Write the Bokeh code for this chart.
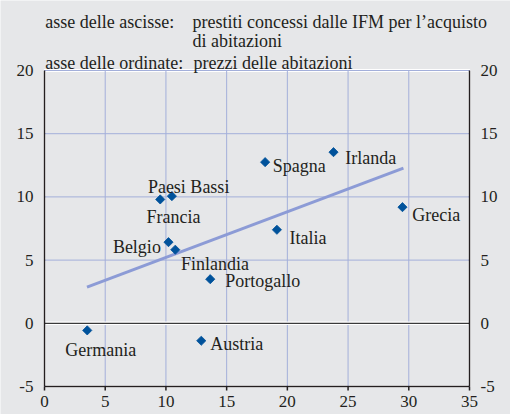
from bokeh.plotting import figure
from bokeh.models import ColumnDataSource, Range1d
from bokeh.embed import file_html
from bokeh.resources import INLINE
from bokeh.core.properties import value

# ---- data ----
countries = ["Germania", "Austria", "Portogallo", "Finlandia", "Belgio", "Francia",
             "Paesi Bassi", "Spagna", "Irlanda", "Italia", "Grecia"]
loans = [3.52, 12.91, 13.65, 10.77, 10.21, 9.53, 10.49, 18.17, 23.80, 19.14, 29.48]
prices = [-0.56, -1.38, 3.49, 5.82, 6.42, 9.80, 10.06, 12.75, 13.54, 7.40, 9.19]

trend_x = [3.50, 29.56]
trend_y = [2.86, 12.27]

x_ticks = [0, 5, 10, 15, 20, 25, 30, 35]
x_tick_labels = ["0", "5", "10", "15", "20", "25", "30", "35"]
y_ticks = [-5, 0, 5, 10, 15, 20]
y_tick_labels = ["-5", "0", "5", "10", "15", "20"]

header_text = ["asse delle ascisse:", "prestiti concessi dalle IFM per l\u2019acquisto",
               "di abitazioni", "asse delle ordinate:", "prezzi delle abitazioni"]

# ---- placement (pixels) ----
label_dx = [-22, 9, 15, 5.7, -55.6, -13.7, -24, 7.7, 11.7, 12.6, 9.7]
label_dy = [20, 3.7, 2, 14, 4.7, 17.4, -9, 4, 6, 8, 8.3]
header_dx = [0.8, 148.1, 148.1, 0.8, 149.0]
header_dy = [-48.3, -48.3, -30.0, -7.7, -7.7]

BG = "#e6e7e9"
GRID = "#a3afda"
DARK = "#231f20"
FONT = "Liberation Serif"

# plot box 425 x 316 px inside a 510 x 414 figure; the frame holds header and scales too
BOX_W, BOX_H = 425, 316
LEFT_PX, RIGHT_PX, HEADER_PX, BOTTOM_PX = 44, 41, 70, 28
FRAME_W = LEFT_PX + BOX_W + RIGHT_PX
FRAME_H = HEADER_PX + BOX_H + BOTTOM_PX
x_ppu = BOX_W / (x_ticks[-1] - x_ticks[0])
y_ppu = BOX_H / (y_ticks[-1] - y_ticks[0])
x_left = x_ticks[0] - LEFT_PX / x_ppu
x_right = x_ticks[-1] + RIGHT_PX / x_ppu
y_top = y_ticks[-1] + HEADER_PX / y_ppu
y_bottom = y_ticks[0] - BOTTOM_PX / y_ppu
tick_len = 4 / y_ppu

p = figure(frame_width=FRAME_W, frame_height=FRAME_H,
           x_range=Range1d(x_left, x_right), y_range=Range1d(y_bottom, y_top),
           output_backend="svg", toolbar_location=None,
           min_border=0,
           background_fill_color=BG, border_fill_color=BG,
           outline_line_color=None, x_axis_location=None, y_axis_location=None)
p.xgrid.visible = False
p.ygrid.visible = False

x0, x1 = x_ticks[0], x_ticks[-1]
y0, y1 = y_ticks[0], y_ticks[-1]
nx, ny = len(x_ticks), len(y_ticks)

# white frame behind the plot box
p.quad(left=[x0], right=[x1], bottom=[y0], top=[y1],
       fill_color=None, line_color="white", line_width=3)

# grid lines (plot box only)
p.segment(x0=x_ticks, y0=[y0] * nx, x1=x_ticks, y1=[y1] * nx, line_color=GRID, line_width=1)
p.segment(x0=[x0] * ny, y0=y_ticks, x1=[x1] * ny, y1=y_ticks, line_color=GRID, line_width=1)

# zero line
p.segment(x0=[x0], y0=[0], x1=[x1], y1=[0], line_color="white", line_width=3.5)
p.segment(x0=[x0], y0=[0], x1=[x1], y1=[0], line_color="#3a3a3a", line_width=1.3)

# bottom scale
p.segment(x0=[x0], y0=[y0], x1=[x1], y1=[y0], line_color=DARK, line_width=1.5)
p.segment(x0=x_ticks, y0=[y0] * nx, x1=x_ticks, y1=[y0 - tick_len] * nx,
          line_color=DARK, line_width=1.5)
bsrc = ColumnDataSource(dict(x=x_ticks, y=[y0] * nx, t=x_tick_labels))
p.text("x", "y", text="t", source=bsrc, y_offset=9,
       text_font=value(FONT), text_font_size=value("17px"), text_color=DARK,
       text_align="center", text_baseline="top")

# left scale
p.segment(x0=[x0], y0=[y0], x1=[x0], y1=[y1], line_color=DARK, line_width=1.5)
lsrc = ColumnDataSource(dict(x=[x0] * ny, y=y_ticks, t=y_tick_labels))
p.text("x", "y", text="t", source=lsrc, x_offset=-11,
       text_font=value(FONT), text_font_size=value("17px"), text_color=DARK,
       text_align="right", text_baseline="middle")

# right scale (mirror of the left one)
p.segment(x0=[x1], y0=[y0], x1=[x1], y1=[y1], line_color=DARK, line_width=1.5)
rsrc = ColumnDataSource(dict(x=[x1] * ny, y=y_ticks, t=y_tick_labels))
p.text("x", "y", text="t", source=rsrc, x_offset=11,
       text_font=value(FONT), text_font_size=value("17px"), text_color=DARK,
       text_align="left", text_baseline="middle")

# trend line
p.line(trend_x, trend_y, line_color="#8c9bd6", line_width=3)

# points and country labels
src = ColumnDataSource(dict(x=loans, y=prices, name=countries, dx=label_dx, dy=label_dy))
p.scatter("x", "y", source=src, marker="square", angle=0.785398, size=6.5,
          fill_color="#00529b", line_color="#00529b", line_width=0.8)
p.text("x", "y", text="name", source=src, x_offset="dx", y_offset="dy",
       text_font=value(FONT), text_font_size=value("18px"), text_color=DARK,
       text_align="left", text_baseline="alphabetic")

# header
hsrc = ColumnDataSource(dict(x=[x0] * len(header_text), y=[y1] * len(header_text),
                             t=header_text, dx=header_dx, dy=header_dy))
p.text("x", "y", text="t", source=hsrc, x_offset="dx", y_offset="dy",
       text_font=value(FONT), text_font_size=value("18px"), text_color=DARK,
       text_align="left", text_baseline="alphabetic")

open("out.html", "w").write(file_html(p, INLINE))
